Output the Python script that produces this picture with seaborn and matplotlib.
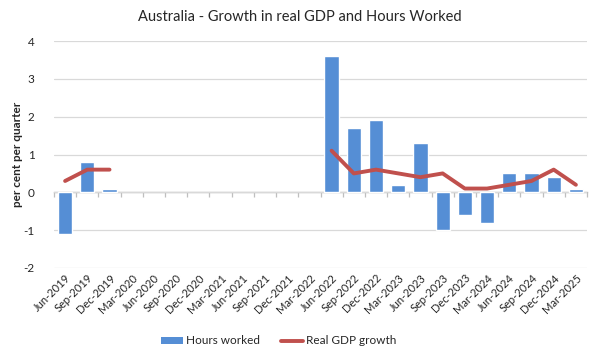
import numpy as np
import pandas as pd
import matplotlib
matplotlib.use("Agg")
import matplotlib.pyplot as plt
import seaborn as sns
from matplotlib.patches import Patch
from matplotlib.lines import Line2D

quarters = ["Jun-2019", "Sep-2019", "Dec-2019", "Mar-2020", "Jun-2020", "Sep-2020",
            "Dec-2020", "Mar-2021", "Jun-2021", "Sep-2021", "Dec-2021", "Mar-2022",
            "Jun-2022", "Sep-2022", "Dec-2022", "Mar-2023", "Jun-2023", "Sep-2023",
            "Dec-2023", "Mar-2024", "Jun-2024", "Sep-2024", "Dec-2024", "Mar-2025"]
hours_worked = [-1.1, 0.8, 0.1, np.nan, np.nan, np.nan, np.nan, np.nan, np.nan, np.nan,
                np.nan, np.nan, 3.6, 1.7, 1.9, 0.2, 1.3, -1.0, -0.6, -0.8, 0.5, 0.5, 0.4, 0.1]
gdp_growth = [0.3, 0.6, 0.6, np.nan, np.nan, np.nan, np.nan, np.nan, np.nan, np.nan,
              np.nan, np.nan, 1.1, 0.5, 0.6, 0.5, 0.4, 0.5, 0.1, 0.1, 0.2, 0.3, 0.6, 0.2]

sns.set_theme(style="white")
plt.rcParams["font.family"] = ["Lato", "DejaVu Sans"]

BAR = "#558ED5"
LINE = "#C0504D"

df = pd.DataFrame({"quarter": quarters, "hours": hours_worked, "gdp": gdp_growth})
df["idx"] = np.arange(len(df))
df["seg"] = df["gdp"].isna().cumsum()

fig = plt.figure(figsize=(6.0, 3.61), dpi=100)
ax = fig.add_axes([54/600, 1 - 268/361, (587-54)/600, (268-41)/361])

sns.barplot(data=df, x="quarter", y="hours", color=BAR, width=0.64, ax=ax,
            saturation=1, order=quarters)
line_df = df.dropna(subset=["gdp"])
sns.lineplot(data=line_df, x="idx", y="gdp", units="seg", estimator=None,
             color=LINE, linewidth=2.8, ax=ax, legend=False)

ax.set_xlim(-0.5, len(quarters) - 0.5)
ax.set_ylim(-2, 4)
ax.set_yticks([-2, -1, 0, 1, 2, 3, 4])
ax.set_yticklabels(["-2", "-1", "0", "1", "2", "3", "4"], fontsize=8.5)
ax.yaxis.grid(True, color="#D9D9D9", linewidth=0.9)
ax.set_axisbelow(True)
for s in ax.spines.values():
    s.set_visible(False)
ax.tick_params(axis="y", length=0, pad=14)
ax.tick_params(axis="x", length=0, pad=3)
ax.set_xticks(range(len(quarters)))
ax.set_xticklabels(quarters, rotation=45, ha="right", rotation_mode="anchor", fontsize=8)
ax.set_xlabel("")
ax.set_ylabel("per cent per quarter", fontsize=8.5, fontweight="bold")
ax.yaxis.set_label_coords(-0.058, 0.5)

# zero axis line with category boundary ticks
sec = ax.secondary_xaxis(1/3)
sec.set_xticks(np.arange(-0.5, len(quarters), 1.0))
sec.set_xticklabels([])
sec.tick_params(axis="x", direction="out", length=3.5, color="#BFBFBF", width=0.9)
sec.spines["bottom"].set_color("#BFBFBF")
sec.spines["bottom"].set_linewidth(1.0)
for k in ["top", "left", "right"]:
    sec.spines[k].set_visible(False)

fig.text(0.5, 1 - 17/361, "Australia - Growth in real GDP and Hours Worked",
         ha="center", va="center", fontsize=10.5)

handles = [Patch(facecolor=BAR, edgecolor="none"),
           Line2D([0], [0], color=LINE, linewidth=2.8)]
fig.legend(handles, ["Hours worked", "Real GDP growth"], loc="center",
           bbox_to_anchor=(0.465, 1 - 341/361), ncol=2, frameon=False,
           fontsize=8.5, handlelength=1.8, handleheight=0.6, columnspacing=1.8,
           handletextpad=0.3)

fig.savefig("out.png", dpi=100)
